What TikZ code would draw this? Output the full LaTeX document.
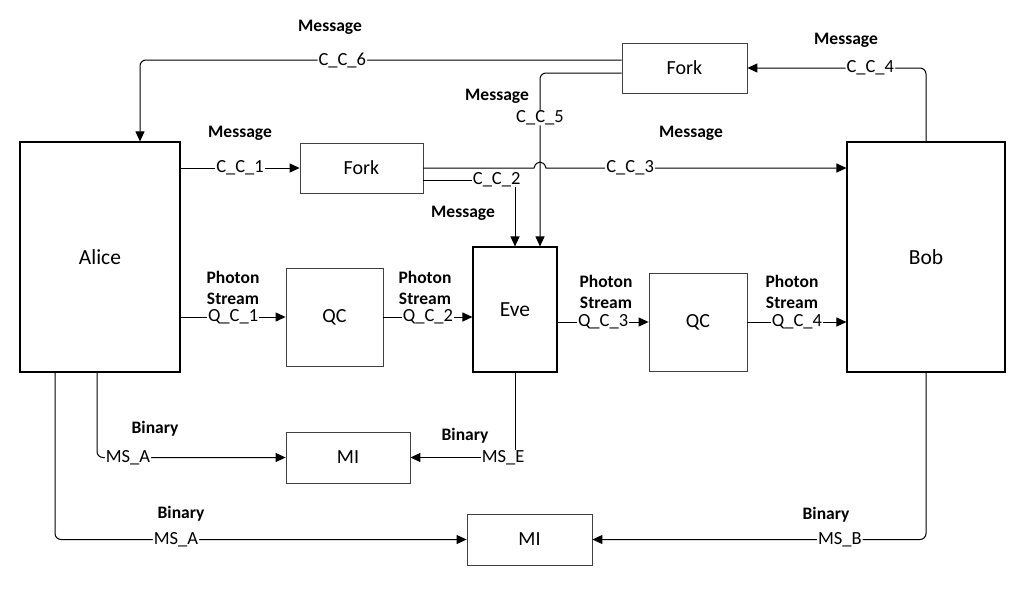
\documentclass[tikz,border=0pt]{standalone}
\usepackage{fontspec}
\setmainfont{Carlito}
\usetikzlibrary{arrows.meta}

\tikzset{
  party/.style={draw, line width=1.1pt, font=\fontsize{21.5}{24}\selectfont},
  unit/.style={draw=black!75, line width=0.8pt, font=\fontsize{20}{22}\selectfont},
  chan/.style={line width=1pt, -{Triangle[length=10pt,width=9pt]}},
  tag/.style={fill=white, inner xsep=1pt, inner ysep=0pt, font=\fontsize{18.5}{20}\selectfont},
  kind/.style={font=\bfseries\fontsize{17.5}{21}\selectfont, align=center},
}

\begin{document}
\begin{tikzpicture}[x=1pt, y=-1pt]
  \useasboundingbox (0,0) rectangle (1031,598);

  % parties
  \node [party, minimum width=160pt, minimum height=230pt](alice) at (100,257) {Alice};
  \node [party, minimum width=158pt, minimum height=230pt](bob) at (926,257) {Bob};
  \node [party, minimum width=84pt, minimum height=125pt](eve) at (515,309.5) {Eve};

  % forks, quantum channels, mutual information
  \node [unit, minimum width=123pt, minimum height=50pt](fork1) at (361.5,168) {Fork};
  \node [unit, minimum width=125pt, minimum height=50pt](fork2) at (684.5,68) {Fork};
  \node [unit, minimum width=97pt, minimum height=98pt](qc1) at (334.5,317) {QC};
  \node [unit, minimum width=98pt, minimum height=98pt](qc2) at (698,322) {QC};
  \node [unit, minimum width=124pt, minimum height=51pt](mi1) at (348,457.5) {MI};
  \node [unit, minimum width=125pt, minimum height=51pt](mi2) at (529.5,539.5) {MI};

  % classical channels
  \draw [chan] (alice.east |- fork1.west) -- node[tag] {C\_C\_1} (fork1.west);
  \draw [chan] (fork1.east) -- (534,168) .. controls (536,160) and (544,160) .. (546,168)
    -- node[tag, pos=0.28] {C\_C\_3} (bob.west |- fork1.east);
  \draw [chan] ([yshift=-12pt]fork1.east) -| node[tag, pos=0.4] {C\_C\_2} (eve.north);
  \draw [chan, rounded corners=6pt] ([yshift=-5pt]fork2.west) -| node[tag, pos=0.63] {C\_C\_5} ([xshift=25pt]eve.north);
  \draw [chan, rounded corners=6pt] ([yshift=8pt]fork2.west) -| node[tag, pos=0.29] {C\_C\_6} ([xshift=40pt]alice.north);
  \draw [chan, rounded corners=6pt] (bob.north) |- node[tag, pos=0.656] {C\_C\_4} (fork2.east);

  % quantum channels
  \draw [chan] (alice.east |- qc1.west) -- node[tag] {Q\_C\_1} (qc1.west);
  \draw [chan] (qc1.east) -- node[tag] {Q\_C\_2} (eve.west |- qc1.east);
  \draw [chan] (eve.east |- qc2.west) -- node[tag] {Q\_C\_3} (qc2.west);
  \draw [chan] (qc2.east) -- node[tag] {Q\_C\_4} (bob.west |- qc2.east);

  % measurement strings
  \draw [chan, rounded corners=6pt] ([xshift=-3pt]alice.south) |- node[tag, pos=0.582] {MS\_A} (mi1.west);
  \draw [chan] (eve.south) |- node[tag, pos=0.557] {MS\_E} (mi1.east);
  \draw [chan, rounded corners=6pt] ([xshift=-45pt]alice.south) |- node[tag, pos=0.647] {MS\_A} (mi2.west);
  \draw [chan, rounded corners=6pt] (bob.south) |- node[tag, pos=0.629] {MS\_B} (mi2.east);

  % what each channel carries
  \node [kind](k6) at (330,27) {Message};
  \node [kind](k5) at (497,96) {Message};
  \node [kind](k4) at (846,40) {Message};
  \node [kind](k1) at (240,133) {Message};
  \node [kind](k3) at (691,133) {Message};
  \node [kind](k2) at (463,213) {Message};
  \node [kind](p1) at (233,288) {Photon\\Stream};
  \node [kind](p2) at (425,288) {Photon\\Stream};
  \node [kind](p3) at (606,292) {Photon\\Stream};
  \node [kind](p4) at (792,291.5) {Photon\\Stream};
  \node [kind](b1) at (155,429) {Binary};
  \node [kind](b2) at (465,436) {Binary};
  \node [kind](b3) at (181,514) {Binary};
  \node [kind](b4) at (826,515) {Binary};
\end{tikzpicture}
\end{document}
